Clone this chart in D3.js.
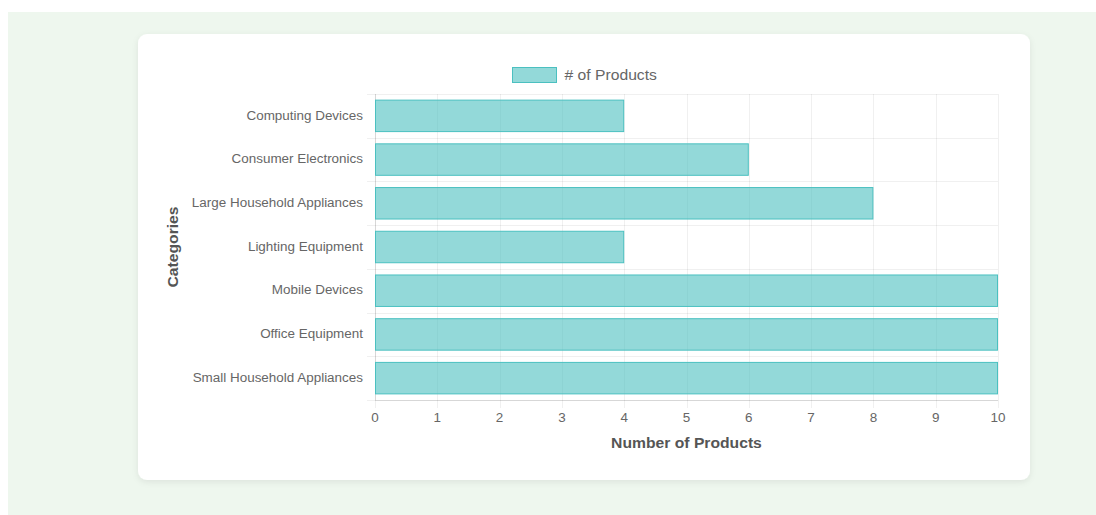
<!DOCTYPE html>
<html><head><meta charset="utf-8">
<script src="https://cdn.jsdelivr.net/npm/d3@7"></script>
<style>
html,body{margin:0;padding:0;background:#fff;}
body{width:1096px;height:515px;overflow:hidden;}
</style></head>
<body><svg id="c" width="1096" height="515"></svg>
<script>
const categories = ["Computing Devices","Consumer Electronics","Large Household Appliances","Lighting Equipment","Mobile Devices","Office Equipment","Small Household Appliances"];
const productCounts = [4,6,8,4,10,10,10];
const xTicks = [0,1,2,3,4,5,6,7,8,9,10];
const seriesName = "# of Products";
const xTitle = "Number of Products";
const yTitle = "Categories";

(function(){
const svg = d3.select("#c");
const font = "Helvetica Neue, Helvetica, Arial, 'Liberation Sans', sans-serif";
const widen = 1.12;
function stretch(sel){
  sel.each(function(){
    const w = this.getComputedTextLength();
    d3.select(this).attr("textLength", w*widen).attr("lengthAdjust","spacingAndGlyphs");
  });
}
const defs = svg.append("defs");
const f = defs.append("filter").attr("id","sh").attr("x","-5%").attr("y","-5%").attr("width","110%").attr("height","115%");
f.append("feDropShadow").attr("dx",0).attr("dy",2).attr("stdDeviation",3).attr("flood-color","#000").attr("flood-opacity",0.08);

svg.append("rect").attr("x",8).attr("y",12).attr("width",1088).attr("height",503).attr("fill","#eef7ee");
svg.append("rect").attr("x",138).attr("y",34).attr("width",892).attr("height",446).attr("rx",9).attr("fill","#fff").attr("filter","url(#sh)");

const pL=375, pR=998, pT=94, pB=400;
const x = d3.scaleLinear().domain([0,10]).range([pL,pR]);
const y = d3.scaleBand().domain(categories).range([pT,pB]).paddingInner(0).paddingOuter(0);
const grid = "rgba(0,0,0,0.06)";

const g = svg.append("g");
g.selectAll(".vg").data(xTicks).join("line")
 .attr("x1",d=>Math.round(x(d))+0.5).attr("x2",d=>Math.round(x(d))+0.5).attr("y1",pT).attr("y2",pB+8)
 .attr("stroke",grid);
const bounds = categories.map(c=>y(c)).concat([pB]);
g.selectAll(".hg").data(bounds).join("line")
 .attr("x1",pL-8).attr("x2",pR).attr("y1",d=>Math.round(d)+0.5).attr("y2",d=>Math.round(d)+0.5)
 .attr("stroke",grid);
g.append("line").attr("x1",pL+0.5).attr("x2",pL+0.5).attr("y1",pT).attr("y2",pB).attr("stroke","rgba(0,0,0,0.1)");
g.append("line").attr("x1",pL).attr("x2",pR).attr("y1",pB+0.5).attr("y2",pB+0.5).attr("stroke","rgba(0,0,0,0.1)");

const bh = y.bandwidth()*0.72;
g.selectAll(".bar").data(categories).join("rect")
 .attr("x",x(0)+0.5)
 .attr("y",(d)=>y(d)+(y.bandwidth()-bh)/2)
 .attr("width",(d,i)=>x(productCounts[i])-x(0)-1)
 .attr("height",bh)
 .attr("fill","rgba(75,192,192,0.6)")
 .attr("stroke","rgb(75,192,192)").attr("stroke-width",1);

g.selectAll(".yl").data(categories).join("text")
 .attr("x",pL-12).attr("y",d=>y(d)+y.bandwidth()/2-0.5).attr("dy","0.35em")
 .attr("text-anchor","end").attr("font-family",font).attr("font-size",12).attr("fill","#666").text(d=>d)
 .call(stretch);
g.selectAll(".xl").data(xTicks).join("text")
 .attr("x",d=>x(d)).attr("y",418).attr("dy","0.35em")
 .attr("text-anchor","middle").attr("font-family",font).attr("font-size",12).attr("fill","#666").text(d=>d)
 .call(stretch);

svg.append("text").attr("x",(pL+pR)/2).attr("y",443).attr("dy","0.35em").attr("text-anchor","middle")
 .attr("font-family",font).attr("font-size",14).attr("font-weight","bold").attr("fill","#555").text(xTitle)
 .call(stretch);
svg.append("text").attr("transform",`translate(173,${(pT+pB)/2}) rotate(-90)`).attr("dy","0.35em").attr("text-anchor","middle")
 .attr("font-family",font).attr("font-size",14).attr("font-weight","bold").attr("fill","#555").text(yTitle)
 .call(stretch);

svg.append("rect").attr("x",512.5).attr("y",67.5).attr("width",44).attr("height",15)
 .attr("fill","rgba(75,192,192,0.6)").attr("stroke","rgb(75,192,192)");
svg.append("text").attr("x",564.5).attr("y",75).attr("dy","0.35em").attr("font-family",font).attr("font-size",14)
 .attr("fill","#666").text(seriesName)
 .call(stretch);
})();
</script></body></html>
